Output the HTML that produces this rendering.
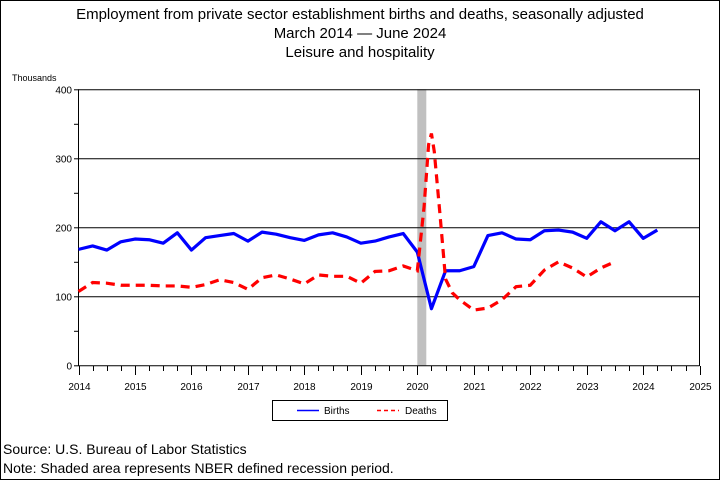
<!DOCTYPE html>
<html><head><meta charset="utf-8"><style>
html,body{margin:0;padding:0;background:#fff}
body{width:720px;height:480px;overflow:hidden}
text{font-family:"Liberation Sans",sans-serif}
</style></head><body>
<svg id="s" width="720" height="480" xmlns="http://www.w3.org/2000/svg">
<rect x="0.5" y="0.5" width="719" height="479" fill="#fff" stroke="#000"/>
<g font-size="15" text-anchor="middle" fill="#000">
<text x="360" y="19">Employment from private sector establishment births and deaths, seasonally adjusted</text>
<text x="360" y="38">March 2014 — June 2024</text>
<text x="360" y="57">Leisure and hospitality</text>
</g>
<text x="12" y="81" font-size="9">Thousands</text>
<rect x="417.3" y="89.3" width="9" height="276" fill="#c0c0c0"/>
<g id="grid" stroke="#000" stroke-width="1"></g>
<g id="lab" font-size="10" fill="#000"></g>
<polyline id="b" fill="none" stroke="#0000ff" stroke-width="3.2" stroke-linejoin="round"/>
<polyline id="d" fill="none" stroke="#ff0000" stroke-width="3.2" stroke-dasharray="9,6"/>
<rect x="272.5" y="400.5" width="175" height="20" fill="#fff" stroke="#000"/>
<line x1="297" y1="410.5" x2="319" y2="410.5" stroke="#0000ff" stroke-width="1.5"/>
<text x="324" y="414" font-size="10">Births</text>
<line x1="377" y1="410.5" x2="399" y2="410.5" stroke="#ff0000" stroke-width="1.5" stroke-dasharray="4,3"/>
<text x="405" y="414" font-size="10">Deaths</text>
<text x="3" y="454" font-size="14">Source: U.S. Bureau of Labor Statistics</text>
<text x="3" y="473" font-size="14">Note: Shaded area represents NBER defined recession period.</text>
</svg>
<script>
var X=function(t){return 78.5+(t-2014)*56.47},Y=function(v){return 365.3-v*0.69};
var g=document.getElementById('grid'),l=document.getElementById('lab'),ns="http://www.w3.org/2000/svg";
function ln(x1,y1,x2,y2){var e=document.createElementNS(ns,'line');e.setAttribute('x1',x1);e.setAttribute('y1',y1);e.setAttribute('x2',x2);e.setAttribute('y2',y2);g.appendChild(e);}
function tx(x,y,s,a){var e=document.createElementNS(ns,'text');e.setAttribute('x',x);e.setAttribute('y',y);e.setAttribute('text-anchor',a);e.textContent=s;l.appendChild(e);}
[100,200,300,400].forEach(function(v){ln(78.5,Y(v)+.5,699.5,Y(v)+.5)});
ln(78.5,89.3,78.5,366);ln(699.5,89.3,699.5,366);ln(78.5,365.8,699.5,365.8);
for(var v=0;v<=400;v+=50){ln(74,Y(v)+.5,78.5,Y(v)+.5);if(v%100==0)tx(72,Y(v)+4,v,'end');}
for(var q=0;q<=44;q++){var x=Math.round(X(2014+q/4))+.5;ln(x,366,x,q%4==0?375:371);if(q%4==0)tx(x,390,2014+q/4,'middle');}
var B=[168,173,167,179,183,182,177,192,167,185,188,191,180,193,190,185,181,189,192,186,177,180,186,191,164,82,137,137,143,188,192,183,182,195,196,193,184,208,195,208,184,196];
var D=[107,120,119,116,116,116,115,115,113,117,124,120,110,127,131,125,118,131,129,129,119,136,137,144,137];
var pb=B.map(function(v,i){return X(2014+i/4)+','+Y(v)}).join(' ');
var dd=[];D.forEach(function(v,i){dd.push([2014+i/4,v])});
dd.push([2020.12,230],[2020.2,320],[2020.25,336],[2020.3,310],[2020.4,220],[2020.5,125],[2020.62,105],[2020.75,95],[2021,80],[2021.25,83],[2021.5,95],[2021.75,114],[2022,116],[2022.25,138],[2022.5,150],[2022.75,141],[2023,128],[2023.25,141],[2023.5,150]);
var pd=dd.map(function(p){return X(p[0])+','+Y(p[1])}).join(' ');
document.getElementById('b').setAttribute('points',pb);
document.getElementById('d').setAttribute('points',pd);
</script>
</body></html>
